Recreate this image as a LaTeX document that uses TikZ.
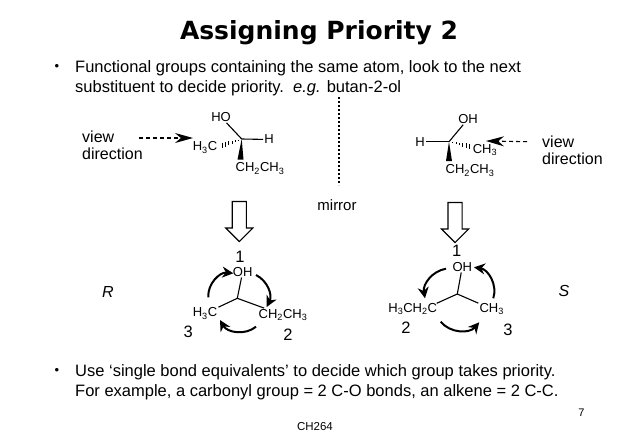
\documentclass[tikz,border=0pt]{standalone}
\usepackage{fontspec}
\setmainfont{Liberation Sans}
\newfontfamily\titlefont{DejaVu Sans}
\usetikzlibrary{arrows.meta,shapes.arrows,calc,positioning}
\tikzstyle{txt} = [inner sep=0, font=\fontsize{16.5}{20}\selectfont, align=left, anchor=west]
\tikzstyle{side} = [inner sep=0, font=\fontsize{16}{17}\selectfont, align=left, anchor=west]
\tikzstyle{atom} = [inner sep=1pt, font=\fontsize{13}{15}\selectfont]
\tikzstyle{num} = [inner sep=0, font=\fontsize{16.5}{20}\selectfont]
\tikzstyle{dot} = [inner sep=0, font=\fontsize{13}{15}\selectfont]
\tikzstyle{bond} = [line width=1.1pt]
\tikzstyle{view} = [line width=1.1pt, dash pattern=on 4pt off 3pt, -{Stealth[length=18pt,width=10pt]}]
\tikzstyle{turn} = [line width=2pt, -{Stealth[length=11pt,width=11pt]}]
\tikzstyle{hollow} = [draw, line width=1.1pt, single arrow, inner sep=6.5pt, minimum height=40pt, minimum width=26pt, single arrow head extend=6.5pt, shape border rotate=270]
\begin{document}
\begin{tikzpicture}[x=1pt, y=-1pt]
	\useasboundingbox (0,0) rectangle (638,442);
	\node (title) [inner sep=0, font=\titlefont\bfseries\fontsize{25}{30}\selectfont] at (319,33) {Assigning Priority 2};
	\node (bullet_top) [dot] at (57,67) {•};
	\node (intro) [txt] at (75,78) {Functional groups containing the same atom, look to the next\\substituent to decide priority.\ \ \textit{e.g.} butan-2-ol};
	\node (bullet_bottom) [dot] at (57,371) {•};
	\node (outro) [txt] at (75,382) {Use ‘single bond equivalents’ to decide which group takes priority.\\For example, a carbonyl group = 2 C-O bonds, an alkene = 2 C-C.};
	\node (page) [atom, font=\fontsize{11}{13}\selectfont] at (581.5,413) {7};
	\node (course) [atom, font=\fontsize{11.5}{14}\selectfont] at (315,427) {CH264};
	% mirror
	\coordinate (mirror_top) at (339,97);
	\coordinate (mirror_end) at (339,185);
	\draw [line width=1.8pt, dash pattern=on 1.8pt off 2.2pt] (mirror_top) -- (mirror_end);
	\node (mirror) [atom, font=\fontsize{15}{18}\selectfont] at (337,205) {mirror};
	% left molecule
	\coordinate (left_c) at (241.7,139);
	\node (left_ho) [atom] at (221,117) {HO};
	\node (left_h) [atom] at (269,139.5) {H};
	\node (left_me) [atom] at (205,147.5) {H\textsubscript{3}C};
	\node (left_et) [atom] at (260,168.5) {CH\textsubscript{2}CH\textsubscript{3}};
	\draw [bond] (left_c) -- (left_ho);
	\draw [bond] (left_c) -- (left_h);
	\fill (left_c) -- (237.5,159.5) -- (243.5,159.5) -- cycle;
	\foreach \t in {0.15,0.3,...,0.95}
		\draw [line width=.8pt] ($(left_c)!\t!(220,146)+(0,-3*\t)$) -- ($(left_c)!\t!(220,146)+(0,3*\t)$);
	\node (left_view) [side] at (82,145) {view\\direction};
	\coordinate (left_eye) at (139,138);
	\draw [view] (left_eye) -- (193,138);
	% right molecule
	\coordinate (right_c) at (449,141.7);
	\node (right_oh) [atom] at (468,119) {OH};
	\node (right_h) [atom] at (420,141.7) {H};
	\node (right_me) [atom] at (485,150) {CH\textsubscript{3}};
	\node (right_et) [atom] at (470,170.5) {CH\textsubscript{2}CH\textsubscript{3}};
	\draw [bond] (right_c) -- (right_oh);
	\draw [bond] (right_c) -- (right_h);
	\fill (right_c) -- (446,161) -- (452,161) -- cycle;
	\foreach \t in {0.15,0.3,...,0.95}
		\draw [line width=.8pt] ($(right_c)!\t!(472,147)+(0,-3*\t)$) -- ($(right_c)!\t!(472,147)+(0,3*\t)$);
	\node (right_view) [side] at (542,150) {view\\direction};
	\coordinate (right_eye) at (527,141.7);
	\draw [view] (right_eye) -- (486,141);
	% hollow arrows
	\node (left_down) [hollow] at (239.3,218) {};
	\node (right_down) [hollow] at (455,219) {};
	% left projection
	\node (left_one) [num] at (240,257) {1};
	\node (left_oh2) [atom] at (242.7,271.7) {OH};
	\coordinate (left_p) at (237.3,298.3);
	\node (left_me2) [atom] at (205,313.5) {H\textsubscript{3}C};
	\node (left_et2) [atom] at (283,315) {CH\textsubscript{2}CH\textsubscript{3}};
	\node (left_three) [num] at (188.3,332) {3};
	\node (left_two) [num] at (288,335) {2};
	\node (left_r) [num, font=\fontsize{16}{18}\selectfont\itshape] at (108,292) {R};
	\draw [bond] (left_p) -- (left_oh2);
	\draw [bond] (left_p) -- (left_me2);
	\draw [bond] (left_p) -- (left_et2);
	\draw [turn] (208.3,297.3) to [bend left=50] (233.3,273.3);
	\draw [turn] (256,275) to [bend left=45] (266.7,307);
	\draw [turn] (256,326.7) to [bend left=50] (220,320);
	% right projection
	\node (right_one) [num] at (456.7,251) {1};
	\node (right_oh2) [atom] at (462.3,266.7) {OH};
	\coordinate (right_p) at (457.3,294);
	\node (right_et2) [atom] at (412.7,309) {H\textsubscript{3}CH\textsubscript{2}C};
	\node (right_me2) [atom] at (491.7,309) {CH\textsubscript{3}};
	\node (right_two) [num] at (406,328) {2};
	\node (right_three) [num] at (508,330) {3};
	\node (right_s) [num, font=\fontsize{16}{18}\selectfont\itshape] at (564,291) {S};
	\draw [bond] (right_p) -- (right_oh2);
	\draw [bond] (right_p) -- (436.7,303.3);
	\draw [bond] (right_p) -- (right_me2);
	\draw [turn] (446,268.7) to [bend right=45] (425,298.3);
	\draw [turn] (493.3,298.3) to [bend right=50] (474,267.3);
	\draw [turn] (440.7,321.7) to [bend right=50] (479.3,322.3);
\end{tikzpicture}
\end{document}
